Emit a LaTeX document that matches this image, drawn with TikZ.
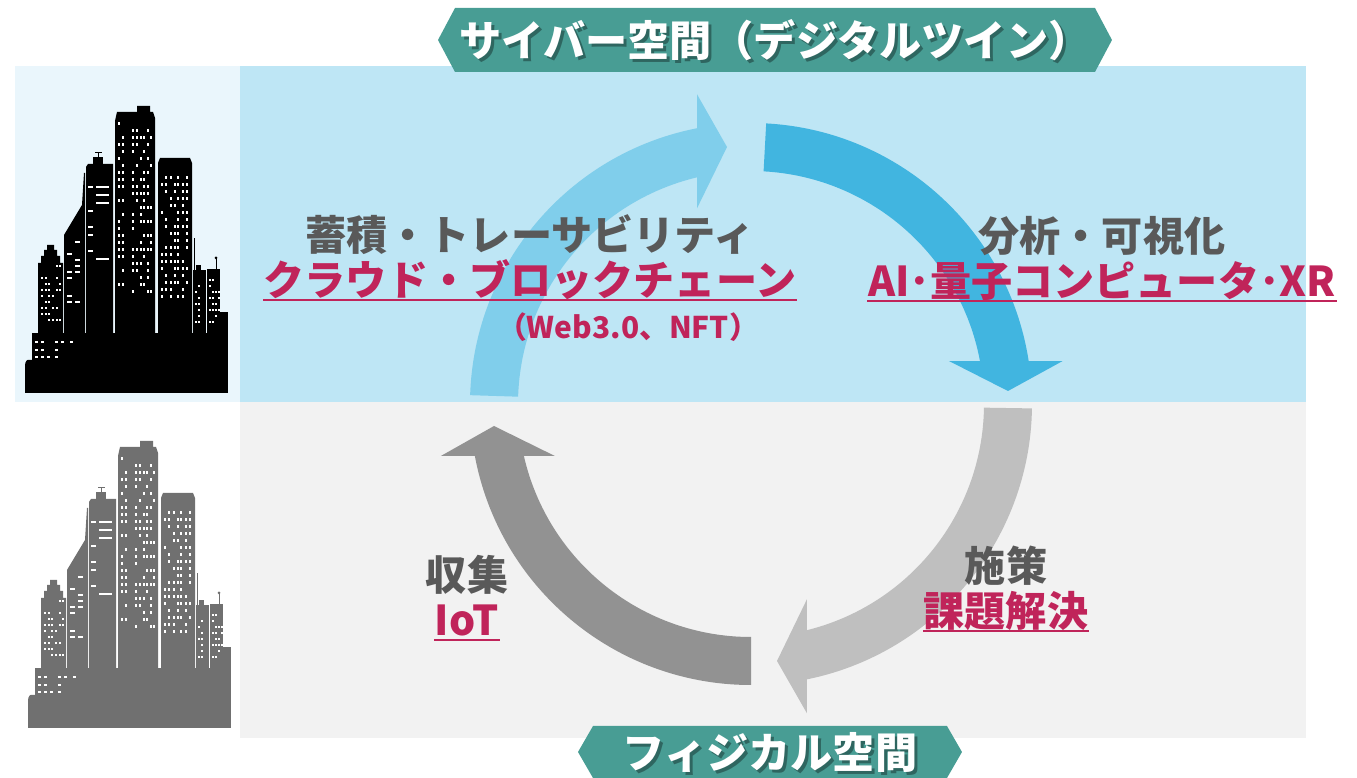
\documentclass[tikz,border=0pt]{standalone}
\usepackage{fontspec}
\setmainfont{Noto Sans CJK JP}
\usepackage{tikz}
\usetikzlibrary{positioning, shapes.symbols}

\definecolor{cyberband}{HTML}{BEE6F5}
\definecolor{cyberpanel}{HTML}{EAF6FC}
\definecolor{physband}{HTML}{F2F2F2}
\definecolor{flowA}{HTML}{80CEEB}
\definecolor{flowB}{HTML}{41B5E0}
\definecolor{flowC}{HTML}{BFBFBF}
\definecolor{flowD}{HTML}{929292}
\definecolor{tealband}{HTML}{489D94}
\definecolor{labelgray}{HTML}{595959}
\definecolor{keyred}{HTML}{C0245A}
\definecolor{citygray}{HTML}{707070}

% a grid of windows, about half of them lit
\newcommand\citywindows[4]{%
  \foreach \wx in {#1} \foreach \wy in {#2} {%
    \pgfmathsetmacro\lit{rnd}%
    \ifdim\lit pt<0.55pt \fill[white] (\wx,\wy) rectangle ++(#3,#4);\fi}}

\tikzset{
  pics/skyline/.style={code={
    \pgfmathsetseed{17}
    % ground mass and the low bump on the left
    \fill[#1] (0,0) -- (0,27) .. controls (0,32) and (2,34) .. (5,33) -- (7,33) -- (7,0) -- cycle;
    \fill[#1] (7,0) rectangle (203,60);
    % stepped tower
    \fill[#1] (13,0) -- (13,130) -- (16,130) -- (16,137) -- (19,137) -- (19,143) -- (22,143)
      -- (22,148) -- (29,148) -- (29,143) -- (32,143) -- (32,137) -- (35,137) -- (35,130)
      -- (38,130) -- (38,0) -- cycle;
    % slanted roof
    \fill[#1] (39,0) -- (39,158) -- (57,188) -- (59,220) -- (60,220) -- (60,0) -- cycle;
    % left tower with antenna
    \fill[#1] (61,0) -- (61,226) -- (63,229) -- (88,229) -- (88,0) -- cycle;
    \fill[#1] (68,229) rectangle (78,236);
    \fill[#1] (72.5,236) rectangle (74,240);
    \fill[#1] (70,239.5) rectangle (77,241);
    % main tower
    \fill[#1] (90,0) -- (90,272) -- (92,281) -- (112,281) -- (112,287) -- (125,287)
      -- (125,281) -- (128,281) -- (130,275) -- (130,0) -- cycle;
    % right tower
    \fill[#1] (133,0) -- (133,230) -- (135,235) -- (165,235) -- (167,230) -- (167,0) -- cycle;
    % small blocks on the right
    \fill[#1] (168,0) rectangle (181,123);
    \fill[#1] (169,123) rectangle (169.9,155);
    \fill[#1] (171,123) rectangle (176,128);
    \fill[#1] (182,0) rectangle (195,124);
    \fill[#1] (190.5,124) rectangle (191.5,135);
    \fill[#1] (191,135) circle[radius=1.5];
    \fill[#1] (195,0) rectangle (203,81);
    % windows
    \citywindows{93,96.5,107,111,114.5,118,121.5,125}{100,107,...,268}{2}{2.5}
    \citywindows{63}{125,133,...,220}{5}{1.6}
    \citywindows{71}{125,133,...,220}{13}{1.6}
    \citywindows{42,50}{90,96,...,150}{5}{2}
    \citywindows{136,139.5,145,148.5,152,157,160.5}{95,102,...,215}{2}{2.5}
    \citywindows{16,19.5,23,27,30.5,34}{72,78,...,128}{2}{2}
    \citywindows{170,173,176,184,187,190,193}{70,76,...,116}{1.6}{2}
    \citywindows{10,16,22,30,36,45}{35,42,50}{3}{2}
  }}
}

\begin{document}
\begin{tikzpicture}[
    x=0.1mm, y=0.1mm,
    banner/.style={signal, signal to=west and east, fill=tealband, inner sep=0pt},
    title/.style={text=white, inner sep=0pt, font=\fontsize{12}{14}\selectfont\bfseries},
    lbl/.style={text=labelgray, inner sep=0pt, text height=0.88em, text depth=0.12em,
                font=\fontsize{11.7}{14}\selectfont\bfseries},
    key/.style={lbl, text=keyred},
    note/.style={text=keyred, inner sep=0pt, font=\fontsize{8.5}{10}\selectfont\bfseries},
    uline/.style={draw=keyred, line width=0.6pt}
  ]
  \useasboundingbox (0,0) rectangle (1357,778);

  % the two layers
  \fill[cyberpanel] (15,376) rectangle (240,712);
  \fill[cyberband] (240,376) rectangle (1306,712);
  \fill[physband] (240,40) rectangle (1306,376);

  \pic at (25,385) {skyline=black};
  \pic at (28,50) {skyline=citygray};

  % the cycle of four curved arrows, each built pointing east and then turned
  \begin{scope}[shift={(751,374)}]
    \foreach \rot/\ta/\d/\col in {0/178.2/54/flowA, -90/176.9/43/flowB, 180/179.1/56/flowC, 90/180/52/flowD} {
      \pgfmathsetmacro\ao{acos(-\d/281)}
      \pgfmathsetmacro\ai{acos(-\d/233)}
      \fill[\col, rotate=\rot] (\ta:281) arc[start angle=\ta, end angle=\ao, radius=281]
        -- ++(0,34) -- (-\d+30,257) -- ([shift={(0,-31)}]\ai:233) -- (\ai:233)
        arc[start angle=\ai, end angle=\ta, radius=233] -- cycle;
    }
  \end{scope}

  % layer banners
  \node[banner, minimum width=67.4mm, minimum height=6.4mm, signal pointer angle=124] (cyber) at (775,738) {};
  \node[title, text=black, text opacity=0.35] at ([xshift=0.3mm, yshift=-0.3mm]cyber.center) {サイバー空間（デジタルツイン）};
  \node[title] (cybertitle) at (cyber) {サイバー空間（デジタルツイン）};

  \node[banner, minimum width=38.4mm, minimum height=5.2mm, signal pointer angle=120] (physical) at (770,26) {};
  \node[title, text=black, text opacity=0.35] at ([xshift=0.3mm, yshift=-0.3mm]physical.center) {フィジカル空間};
  \node[title] (physicaltitle) at (physical) {フィジカル空間};

  % step labels
  \node[lbl] (accum) at (530,541) {蓄積・トレーサビリティ};
  \node[key] (cloud) [below=0.9mm of accum] {クラウド・ブロックチェーン};
  \node[note] (web) at (628,451) {（Web3.0、NFT）};

  \node[lbl] (analysis) at (1102,540) {分析・可視化};
  \node[key] (ai) [below=0.9mm of analysis] {AI･量子コンピュータ･XR};

  \node[lbl] (measure) at (1006,210) {施策};
  \node[key] (solve) [below=0.9mm of measure] {課題解決};

  \node[lbl] (collect) at (467,201) {収集};
  \node[key] (iot) [below=0.9mm of collect] {IoT};

  \foreach \n in {cloud, ai, solve, iot}
    \draw[uline] ([yshift=-0.4mm]\n.base west) -- ([yshift=-0.4mm]\n.base east);
\end{tikzpicture}
\end{document}
